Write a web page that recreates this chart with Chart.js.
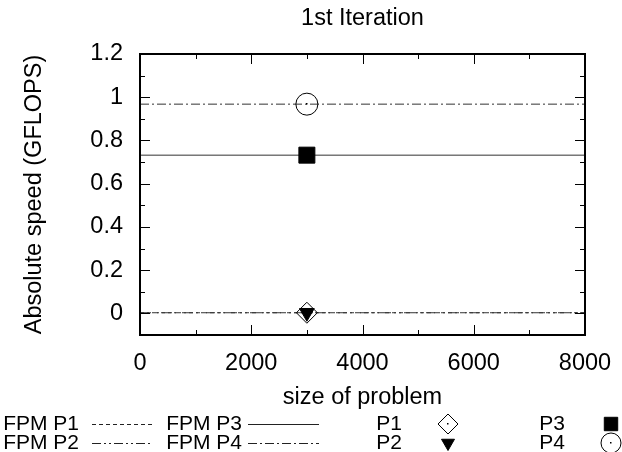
<!DOCTYPE html>
<html>
<head>
<meta charset="utf-8">
<script src="https://cdn.jsdelivr.net/npm/chart.js@4"></script>
<style>
  html, body { margin: 0; padding: 0; background: #fff; }
  #wrap { width: 622px; height: 452px; }
</style>
</head>
<body>
<div id="wrap"><canvas id="chart" width="622" height="452"></canvas></div>
<script>
  // problem size where speeds were measured
  const sizes = [3000];
  // measured absolute speeds (GFLOPS)
  const speedP1 = [0.003];
  const speedP2 = [0.003];
  const speedP3 = [0.732];
  const speedP4 = [0.968];
  // FPM model lines span the whole x range
  const fpmX = [0, 8000];
  const fpmP1 = [0.003, 0.003];
  const fpmP2 = [0.003, 0.003];
  const fpmP3 = [0.732, 0.732];
  const fpmP4 = [0.968, 0.968];
  const xTicks = [0, 2000, 4000, 6000, 8000];
  const yTicks = [0, 0.2, 0.4, 0.6, 0.8, 1, 1.2];

  const FONT = 'Liberation Sans, Arial, Helvetica, sans-serif';
  const FS = 23.5;
  const pts = (xs, ys) => xs.map((x, i) => ({ x: x, y: ys[i] }));

  const DASH = {
    p1: [4, 3],
    p2: [9, 3, 2, 3, 2, 3],
    p3: [],
    p4: [9, 3, 2, 3]
  };

  const lineSet = (label, data, dash) => ({
    label, data: pts(fpmX, data), showLine: true, borderColor: '#333', borderWidth: 1,
    borderDash: dash, pointRadius: 0, fill: false, order: 10
  });

  // inward ticks on all four sides, gnuplot style, plus center dots and custom key
  const gnuplotLook = {
    id: 'gnuplotLook',
    afterDatasetsDraw(chart) {
      const { ctx, chartArea: a, scales: { x, y } } = chart;
      ctx.save();
      ctx.strokeStyle = '#000';
      ctx.lineWidth = 1;
      ctx.beginPath();
      for (let v = 0; v <= 8000; v += 1000) {
        const px = Math.round(x.getPixelForValue(v)) + 0.5;
        const len = v % 2000 === 0 ? 10 : 5;
        ctx.moveTo(px, a.bottom); ctx.lineTo(px, a.bottom - len);
        ctx.moveTo(px, a.top); ctx.lineTo(px, a.top + len);
      }
      for (let i = -1; i <= 12; i++) {
        const v = i / 10;
        const py = Math.round(y.getPixelForValue(v)) + 0.5;
        const len = i % 2 === 0 ? 10 : 5;
        ctx.moveTo(a.left, py); ctx.lineTo(a.left + len, py);
        ctx.moveTo(a.right, py); ctx.lineTo(a.right - len, py);
      }
      ctx.stroke();
      ctx.lineWidth = 2;
      ctx.strokeRect(a.left, a.top, a.right - a.left, a.bottom - a.top);

      // small dots in the middle of the open markers
      ctx.fillStyle = '#000';
      ['P1', 'P4'].forEach(name => {
        const idx = chart.data.datasets.findIndex(d => d.label === name);
        chart.getDatasetMeta(idx).data.forEach(el => {
          ctx.fillRect(Math.round(el.x) - 1, Math.round(el.y) - 1, 1.5, 1.5);
        });
      });

      // key
      ctx.font = '21px ' + FONT;
      ctx.textAlign = 'right';
      ctx.textBaseline = 'middle';
      const rows = [424, 443];
      const lineKeys = [
        ['FPM P1', 79, 92, 153, DASH.p1, rows[0]],
        ['FPM P2', 79, 92, 153, DASH.p2, rows[1]],
        ['FPM P3', 242, 248, 319, DASH.p3, rows[0]],
        ['FPM P4', 242, 248, 319, DASH.p4, rows[1]]
      ];
      lineKeys.forEach(([t, tx, x0, x1, dash, ry]) => {
        ctx.fillStyle = '#000';
        ctx.fillText(t, tx, ry);
        ctx.strokeStyle = '#222';
        ctx.lineWidth = 1;
        ctx.setLineDash(dash);
        ctx.beginPath();
        ctx.moveTo(x0, Math.round(ry) + 0.5); ctx.lineTo(x1, Math.round(ry) + 0.5);
        ctx.stroke();
      });
      ctx.setLineDash([]);
      const markKeys = [
        ['P1', 402, 448, rows[0], 10],
        ['P2', 402, 448, rows[1], 7.5],
        ['P3', 565, 611, rows[0], 9.5],
        ['P4', 565, 611, rows[1], 10]
      ];
      markKeys.forEach(([t, tx, mx, ry, r]) => {
        ctx.fillStyle = '#000';
        ctx.fillText(t, tx, ry);
        const ds = chart.data.datasets.find(d => d.label === t);
        ctx.lineWidth = 1;
        ctx.strokeStyle = '#000';
        ctx.fillStyle = ds.pointBackgroundColor;
        Chart.helpers.drawPoint(ctx, { pointStyle: ds.pointStyle, rotation: ds.pointRotation || 0, radius: r, borderWidth: 1 }, mx, ry);
        if (t === 'P1' || t === 'P4') { ctx.fillStyle = '#000'; ctx.fillRect(mx - 1, ry - 1, 1.5, 1.5); }
      });
      ctx.restore();
    }
  };

  new Chart(document.getElementById('chart'), {
    type: 'scatter',
    data: {
      datasets: [
        lineSet('FPM P1', fpmP1, DASH.p1),
        lineSet('FPM P2', fpmP2, DASH.p2),
        lineSet('FPM P3', fpmP3, DASH.p3),
        lineSet('FPM P4', fpmP4, DASH.p4),
        { label: 'P1', data: pts(sizes, speedP1), pointStyle: 'rectRot', pointRadius: 10.5,
          pointBackgroundColor: 'rgba(0,0,0,0)', pointBorderColor: '#000', pointBorderWidth: 1, order: 4 },
        { label: 'P2', data: pts(sizes, speedP2), pointStyle: 'triangle', pointRotation: 180, pointRadius: 8.5,
          pointBackgroundColor: '#000', pointBorderColor: '#000', pointBorderWidth: 1, order: 3 },
        { label: 'P3', data: pts(sizes, speedP3), pointStyle: 'rect', pointRadius: 11.3,
          pointBackgroundColor: '#000', pointBorderColor: '#000', pointBorderWidth: 1, order: 2 },
        { label: 'P4', data: pts(sizes, speedP4), pointStyle: 'circle', pointRadius: 11,
          pointBackgroundColor: 'rgba(0,0,0,0)', pointBorderColor: '#000', pointBorderWidth: 1, order: 1 }
      ]
    },
    options: {
      responsive: false,
      animation: false,
      layout: { padding: { left: 0, right: 37, top: 54, bottom: 40 } },
      plugins: {
        legend: { display: false },
        tooltip: { enabled: false },
        title: { display: false }
      },
      scales: {
        x: {
          type: 'linear', min: 0, max: 8000,
          afterBuildTicks: s => { s.ticks = xTicks.map(v => ({ value: v })); },
          afterFit: s => { s.height = 77; },
          grid: { display: false },
          border: { display: false },
          ticks: { color: '#000', font: { family: FONT, size: FS }, padding: 6, maxRotation: 0,
            callback: v => String(v) },
          title: { display: true, text: 'size of problem', color: '#000', font: { family: FONT, size: FS }, padding: { top: 4, bottom: 0 } }
        },
        y: {
          type: 'linear', min: -0.1, max: 1.2,
          afterBuildTicks: s => { s.ticks = yTicks.map(v => ({ value: v })); },
          afterFit: s => { s.width = 140; },
          grid: { display: false },
          border: { display: false },
          ticks: { color: '#000', font: { family: FONT, size: FS }, padding: 9,
            callback: v => String(Math.round(v * 10) / 10) },
          title: { display: true, text: 'Absolute speed (GFLOPS)', color: '#000', font: { family: FONT, size: FS }, padding: { top: 20 } }
        }
      }
    },
    plugins: [gnuplotLook, {
      id: 'topTitle',
      afterDraw(chart) {
        const { ctx } = chart;
        ctx.save();
        ctx.font = FS + 'px ' + FONT;
        ctx.fillStyle = '#000';
        ctx.textAlign = 'center';
        ctx.textBaseline = 'middle';
        ctx.fillText('1st Iteration', (chart.chartArea.left + chart.chartArea.right) / 2, 19);
        ctx.restore();
      }
    }]
  });
</script>
</body>
</html>
